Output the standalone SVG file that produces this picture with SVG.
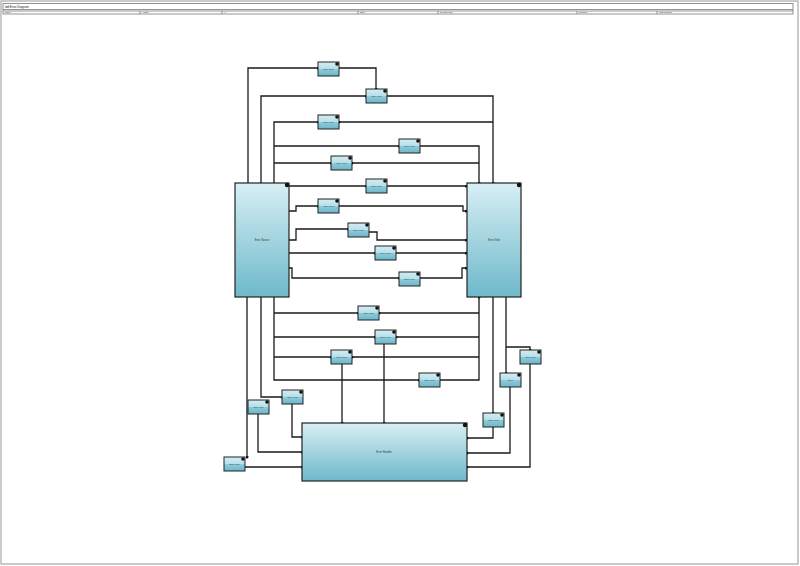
<svg xmlns="http://www.w3.org/2000/svg" width="800" height="566" viewBox="0 0 800 566">
<defs>
<linearGradient id="gBig" x1="0" y1="0" x2="0" y2="1">
<stop offset="0" stop-color="#d8eff4"/>
<stop offset="1" stop-color="#6db9ca"/>
</linearGradient>
<linearGradient id="gSmall" x1="0" y1="0" x2="0" y2="1">
<stop offset="0" stop-color="#d4edf3"/>
<stop offset="0.5" stop-color="#b6dfe9"/>
<stop offset="0.5" stop-color="#8fcbdb"/>
<stop offset="1" stop-color="#6bb7c9"/>
</linearGradient>
<marker id="dot" viewBox="0 0 4 4" refX="2" refY="2" markerWidth="3" markerHeight="3" markerUnits="userSpaceOnUse">
<circle cx="2" cy="2" r="2" fill="#111"/>
</marker>
</defs>
<style>
.frame{fill:#fff;stroke:#a8a8a8;stroke-width:1.2}
.hdr{fill:none;stroke:#777;stroke-width:0.8}
.ht{font-family:"Liberation Sans",Arial,sans-serif;font-size:3px;fill:#111}
.hf{font-family:"Liberation Sans",Arial,sans-serif;font-size:2.2px;fill:#222}
.big{fill:url(#gBig);stroke:#222;stroke-width:1.2}
.sm{fill:url(#gSmall);stroke:#222;stroke-width:1}
.corner{fill:#111}
.lbl{font-family:"Liberation Sans",Arial,sans-serif;font-size:2.2px;fill:#333;text-anchor:middle}
.blbl{font-family:"Liberation Sans",Arial,sans-serif;font-size:2.6px;fill:#333;text-anchor:middle}
#connectors path{fill:none;stroke:#1a1a1a;stroke-width:1.3;marker-end:url(#dot)}
</style>
<rect class="frame" x="1" y="1" width="797" height="563"/>
<g id="header">
<rect class="hdr" x="3" y="3.5" width="790" height="10.5"/>
<line class="hdr" x1="3" y1="9.5" x2="793" y2="9.5"/>
<line class="hdr" x1="3" y1="11" x2="793" y2="11"/>
<text class="ht" x="5" y="8">ibd Error Diagram</text>
<line class="hdr" x1="140" y1="11" x2="140" y2="14"/>
<line class="hdr" x1="222" y1="11" x2="222" y2="14"/>
<line class="hdr" x1="358" y1="11" x2="358" y2="14"/>
<line class="hdr" x1="438" y1="11" x2="438" y2="14"/>
<line class="hdr" x1="577" y1="11" x2="577" y2="14"/>
<line class="hdr" x1="657" y1="11" x2="657" y2="14"/>
<text class="hf" x="5" y="13.3">Name:</text>
<text class="hf" x="142" y="13.3">Author:</text>
<text class="hf" x="224" y="13.3">V:</text>
<text class="hf" x="360" y="13.3">Date:</text>
<text class="hf" x="440" y="13.3">Created date</text>
<text class="hf" x="579" y="13.3">Modified:</text>
<text class="hf" x="659" y="13.3">Last modified</text>
</g>
<g id="connectors">
<path d="M248,183 V68 H318"/>
<path d="M339,68 H376 V89"/>
<path d="M261,183 V96 H366"/>
<path d="M387,96 H493 V183"/>
<path d="M274,183 V122 H318"/>
<path d="M493,122 H339"/>
<path d="M274,146 H399"/>
<path d="M420,146 H479 V183"/>
<path d="M274,163 H331"/>
<path d="M479,163 H352"/>
<path d="M289,186 H366"/>
<path d="M387,186 H466"/>
<path d="M289,211 H296 V206 H318"/>
<path d="M339,206 H463 V211 H466"/>
<path d="M289,240 H296 V229 H348"/>
<path d="M369,232 H377 V240 H466"/>
<path d="M289,253 H375"/>
<path d="M396,253 H466"/>
<path d="M289,268 H292 V278 H399"/>
<path d="M420,278 H462 V268 H466"/>
<path d="M274,297 V380 H419"/>
<path d="M440,380 H479 V297"/>
<path d="M274,313 H358"/>
<path d="M479,313 H379"/>
<path d="M274,337 H375"/>
<path d="M479,337 H396"/>
<path d="M274,357 H331"/>
<path d="M479,357 H352"/>
<path d="M384,344 V423"/>
<path d="M342,364 V423"/>
<path d="M493,297 V413"/>
<path d="M493,427 V438 H467"/>
<path d="M506,297 V373"/>
<path d="M506,347 H530 V350"/>
<path d="M510,387 V453 H467"/>
<path d="M530,364 V467 H467"/>
<path d="M261,297 V397 H282"/>
<path d="M247,297 V457"/>
<path d="M292,404 V437 H302"/>
<path d="M258,414 V452 H302"/>
<path d="M245,467 H302"/>
</g>
<g id="blockLeft">
<rect class="big" x="235" y="183" width="54" height="114"/>
<circle class="corner" cx="287" cy="185" r="2.2"/>
<text class="blbl" x="262" y="241">Error Source</text>
</g>
<g id="blockRight">
<rect class="big" x="467" y="183" width="54" height="114"/>
<circle class="corner" cx="519" cy="185" r="2.2"/>
<text class="blbl" x="494" y="241">Error Sink</text>
</g>
<g id="blockBottom">
<rect class="big" x="302" y="423" width="165" height="58"/>
<circle class="corner" cx="465" cy="425" r="2.2"/>
<text class="blbl" x="384" y="453">Error Handler</text>
</g>
<g id="n1"><rect class="sm" x="318" y="62" width="21" height="14"/><circle class="corner" cx="337" cy="64" r="1.8"/><text class="lbl" x="328.5" y="70">Error Flow</text></g>
<g id="n2"><rect class="sm" x="366" y="89" width="21" height="14"/><circle class="corner" cx="385" cy="91" r="1.8"/><text class="lbl" x="376.5" y="97">Error Flow</text></g>
<g id="n3"><rect class="sm" x="318" y="115" width="21" height="14"/><circle class="corner" cx="337" cy="117" r="1.8"/><text class="lbl" x="328.5" y="123">Error Flow</text></g>
<g id="n4"><rect class="sm" x="399" y="139" width="21" height="14"/><circle class="corner" cx="418" cy="141" r="1.8"/><text class="lbl" x="409.5" y="147">Error Flow</text></g>
<g id="n5"><rect class="sm" x="331" y="156" width="21" height="14"/><circle class="corner" cx="350" cy="158" r="1.8"/><text class="lbl" x="341.5" y="164">Error Flow</text></g>
<g id="n6"><rect class="sm" x="366" y="179" width="21" height="14"/><circle class="corner" cx="385" cy="181" r="1.8"/><text class="lbl" x="376.5" y="187">Error Flow</text></g>
<g id="n7"><rect class="sm" x="318" y="199" width="21" height="14"/><circle class="corner" cx="337" cy="201" r="1.8"/><text class="lbl" x="328.5" y="207">Error Flow</text></g>
<g id="n8"><rect class="sm" x="348" y="223" width="21" height="14"/><circle class="corner" cx="367" cy="225" r="1.8"/><text class="lbl" x="358.5" y="231">Error Flow</text></g>
<g id="n9"><rect class="sm" x="375" y="246" width="21" height="14"/><circle class="corner" cx="394" cy="248" r="1.8"/><text class="lbl" x="385.5" y="254">Error Flow</text></g>
<g id="n10"><rect class="sm" x="399" y="272" width="21" height="14"/><circle class="corner" cx="418" cy="274" r="1.8"/><text class="lbl" x="409.5" y="280">Error Flow</text></g>
<g id="n11"><rect class="sm" x="358" y="306" width="21" height="14"/><circle class="corner" cx="377" cy="308" r="1.8"/><text class="lbl" x="368.5" y="314">Error Flow</text></g>
<g id="n12"><rect class="sm" x="375" y="330" width="21" height="14"/><circle class="corner" cx="394" cy="332" r="1.8"/><text class="lbl" x="385.5" y="338">Error Flow</text></g>
<g id="n13"><rect class="sm" x="331" y="350" width="21" height="14"/><circle class="corner" cx="350" cy="352" r="1.8"/><text class="lbl" x="341.5" y="358">Error Flow</text></g>
<g id="n14"><rect class="sm" x="419" y="373" width="21" height="14"/><circle class="corner" cx="438" cy="375" r="1.8"/><text class="lbl" x="429.5" y="381">Error Flow</text></g>
<g id="n15"><rect class="sm" x="520" y="350" width="21" height="14"/><circle class="corner" cx="539" cy="352" r="1.8"/><text class="lbl" x="530.5" y="358">Error Flow</text></g>
<g id="n16"><rect class="sm" x="500" y="373" width="21" height="14"/><circle class="corner" cx="519" cy="375" r="1.8"/><text class="lbl" x="510.5" y="381">Error</text></g>
<g id="n17"><rect class="sm" x="483" y="413" width="21" height="14"/><circle class="corner" cx="502" cy="415" r="1.8"/><text class="lbl" x="493.5" y="421">Error Flow</text></g>
<g id="n18"><rect class="sm" x="282" y="390" width="21" height="14"/><circle class="corner" cx="301" cy="392" r="1.8"/><text class="lbl" x="292.5" y="398">Error Flow</text></g>
<g id="n19"><rect class="sm" x="248" y="400" width="21" height="14"/><circle class="corner" cx="267" cy="402" r="1.8"/><text class="lbl" x="258.5" y="408">Error Flow</text></g>
<g id="n20"><rect class="sm" x="224" y="457" width="21" height="14"/><circle class="corner" cx="243" cy="459" r="1.8"/><text class="lbl" x="234.5" y="465">Error Flow</text></g>
</svg>
